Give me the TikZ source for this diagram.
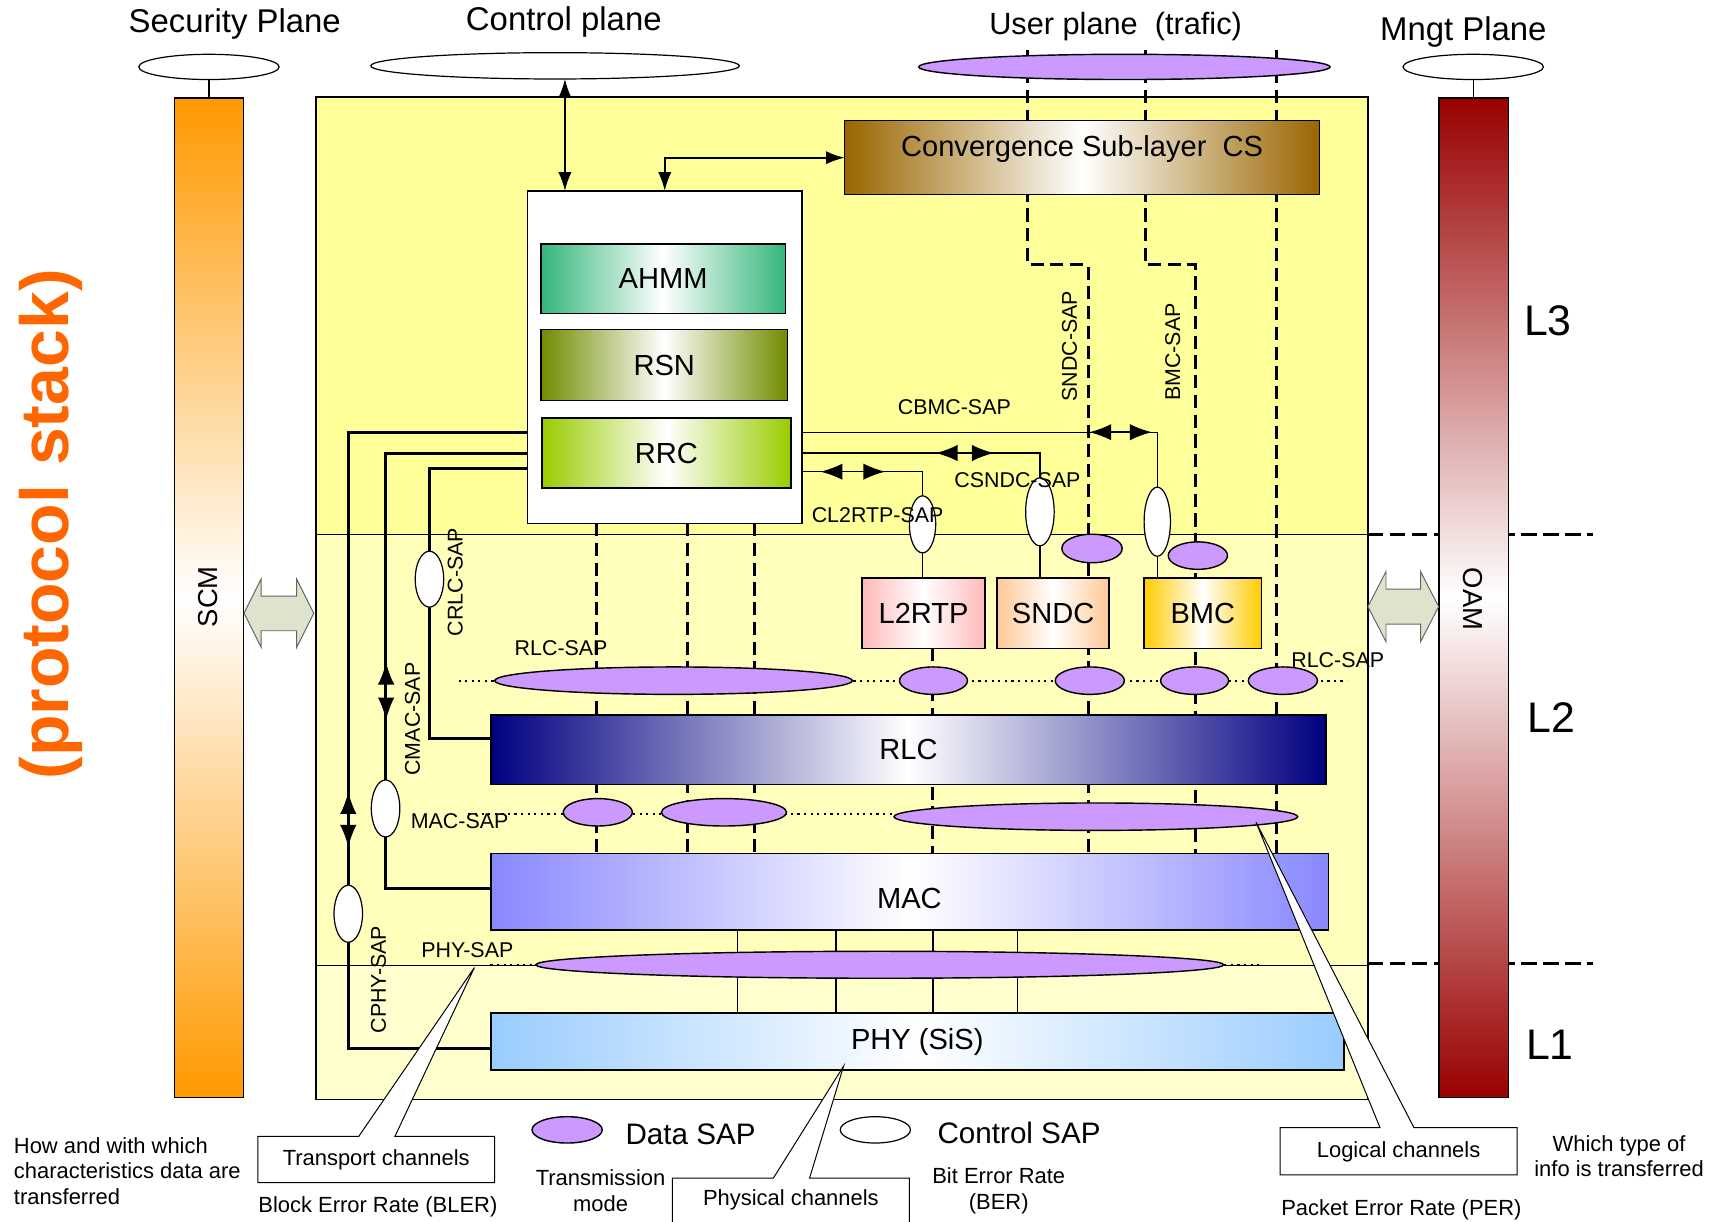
\documentclass[tikz,border=0pt]{standalone}
\usepackage{fontspec}
\setmainfont{Liberation Sans}
\usetikzlibrary{shapes.geometric,arrows.meta}
\pgfdeclarelayer{bg}
\pgfdeclarelayer{wires}
\pgfsetlayers{bg,wires,main}
\definecolor{sap}{RGB}{204,153,255}
\definecolor{ylA}{RGB}{255,255,153}
\definecolor{ylB}{RGB}{255,255,187}
\definecolor{ylC}{RGB}{255,255,206}
\definecolor{scmC}{RGB}{255,153,0}
\definecolor{oamC}{RGB}{153,0,0}
\definecolor{csC}{RGB}{153,102,0}
\definecolor{ahmmC}{RGB}{51,182,122}
\definecolor{rsnC}{RGB}{112,140,0}
\definecolor{rrcC}{RGB}{153,204,0}
\definecolor{l2C}{RGB}{255,185,185}
\definecolor{sndcC}{RGB}{255,200,150}
\definecolor{bmcC}{RGB}{255,204,0}
\definecolor{rlcC}{RGB}{0,0,128}
\definecolor{macC}{RGB}{136,136,255}
\definecolor{phyC}{RGB}{153,204,255}
\definecolor{fatC}{RGB}{221,227,204}
\definecolor{psC}{RGB}{255,102,0}
\begin{document}
\begin{tikzpicture}[x=1pt,y=-1pt,
  blk/.style={draw=black,line width=1.4pt,inner sep=0pt,outer sep=0pt,font=\fontsize{26.5}{30}\selectfont},
  hsh/.style={left color=#1,right color=#1,middle color=white},
  vsh/.style={top color=#1,bottom color=#1,middle color=white},
  dsap/.style={ellipse,draw=black,line width=1.3pt,fill=sap,inner sep=0pt,outer sep=0pt},
  csap/.style={ellipse,draw=black,line width=1.1pt,fill=white,inner sep=0pt,outer sep=0pt},
  dline/.style={line width=2.8pt,dash pattern=on 12pt off 6pt},
  xline/.style={line width=2.8pt,dash pattern=on 14pt off 6pt},
  dotl/.style={line width=2pt,dash pattern=on 2pt off 4pt},
  thinl/.style={line width=1.2pt},
  thickl/.style={line width=2.7pt},
  lbl/.style={inner sep=0pt,font=\fontsize{19.5}{23}\selectfont},
  ttl/.style={inner sep=0pt,font=\fontsize{30}{36}\selectfont},
  note/.style={inner sep=0pt,font=\fontsize{20}{23.5}\selectfont,align=center},
  lay/.style={inner sep=0pt,font=\fontsize{39}{44}\selectfont},
  callout/.style={draw=black,line width=0.9pt,fill=white},
  fatarr/.style={draw=black!60,line width=0.9pt,fill=fatC},
  bigtip/.style={line width=1.5pt,arrows={Latex[length=17pt,width=12pt]-Latex[length=17pt,width=12pt]}},
  duo/.style={line width=1.4pt,arrows={Latex[length=20pt,width=15pt]-Latex[length=20pt,width=15pt]}},
]
\useasboundingbox (0,0) rectangle (1568,1114);

% ---------- background stack ----------
\begin{pgfonlayer}{bg}
\fill[ylA] (288,88.5) rectangle (1247,487);
\fill[ylB] (288,487) rectangle (1247,880);
\fill[ylC] (288,880) rectangle (1247,1002.5);
\draw[line width=1.1pt] (288,487) -- (1247,487) (288,880) -- (1247,880);
\draw[line width=1.2pt] (288,88.5) rectangle (1247,1002.5);
\draw[xline] (1247,487) -- (1452,487);
\draw[xline] (1247,878.5) -- (1452,878.5);
\end{pgfonlayer}

% ---------- side bars ----------
\node[blk,vsh=scmC,minimum width=63pt,minimum height=911pt] (scm) at (190.5,545) {};
\node[blk,vsh=oamC,minimum width=63.4pt,minimum height=911pt] (oam) at (1343.3,545) {};
\node[rotate=90,inner sep=0pt,font=\fontsize{25}{30}\selectfont] (scmt) at (190,544) {SCM};
\node[rotate=-90,inner sep=0pt,font=\fontsize{25}{30}\selectfont] (oamt) at (1343,546) {OAM};

% fat double arrows
\draw[fatarr] (222.5,559) -- (238,528) -- (238,543.5) -- (270.5,543.5) -- (270.5,528) -- (286,559)
  -- (270.5,590) -- (270.5,575) -- (238,575) -- (238,590) -- cycle;
\draw[fatarr] (1247,553) -- (1263.5,521) -- (1263.5,537) -- (1295,537) -- (1295,521) -- (1311.5,553)
  -- (1295,585) -- (1295,569) -- (1263.5,569) -- (1263.5,585) -- cycle;

% ---------- plane ellipses ----------
\node[csap,minimum width=128pt,minimum height=23pt] (spe) at (190.5,61) {};
\node[csap,minimum width=336pt,minimum height=24pt] (cpe) at (506,60) {};
\node[dsap,minimum width=375pt,minimum height=23pt] (upe) at (1025,61) {};
\node[csap,minimum width=128pt,minimum height=23pt] (mpe) at (1343,61) {};

% ---------- blocks ----------
\node[blk,hsh=csC,minimum width=433pt,minimum height=67.5pt] (cs) at (986.5,143.75) {};
\node[inner sep=0pt,font=\fontsize{26.5}{30}\selectfont] (cst) at (986.5,136) {Convergence Sub-layer~~CS};
\node[blk,fill=white,line width=1.2pt,minimum width=250pt,minimum height=303pt] (ctrl) at (606,325.5) {};
\node[blk,hsh=ahmmC,minimum width=223pt,minimum height=63.5pt] (ahmm) at (604.5,254.25) {AHMM};
\node[blk,hsh=rsnC,minimum width=225pt,minimum height=64.5pt] (rsn) at (605.5,332.75) {RSN};
\node[blk,hsh=rrcC,minimum width=227pt,minimum height=64pt] (rrc) at (607.5,413) {RRC};
\node[blk,hsh=l2C,minimum width=112pt,minimum height=64pt] (l2rtp) at (842,559) {L2RTP};
\node[blk,hsh=sndcC,minimum width=102pt,minimum height=64pt] (sndc) at (960,559) {SNDC};
\node[blk,hsh=bmcC,minimum width=107pt,minimum height=64pt] (bmc) at (1096.5,559) {BMC};
\node[blk,hsh=rlcC,minimum width=761.5pt,minimum height=63pt] (rlc) at (828.25,683.5) {RLC};
\node[blk,hsh=macC,minimum width=763.5pt,minimum height=70pt] (mac) at (829.25,813) {};
\node[inner sep=0pt,font=\fontsize{26.5}{30}\selectfont] (mact) at (829,819.5) {MAC};
\node[blk,hsh=phyC,minimum width=777.5pt,minimum height=52pt] (phy) at (836.25,949.5) {PHY (SiS)};

% ---------- data SAPs ----------
\node[dsap,minimum width=326pt,minimum height=25pt] (rs1) at (614,620.5) {};
\node[dsap,minimum width=62pt,minimum height=25pt] (rs2) at (851,620.5) {};
\node[dsap,minimum width=63pt,minimum height=25pt] (rs3) at (993.5,620.5) {};
\node[dsap,minimum width=62pt,minimum height=25pt] (rs4) at (1089,620.5) {};
\node[dsap,minimum width=63pt,minimum height=25pt] (rs5) at (1169.5,620.5) {};
\node[dsap,minimum width=63pt,minimum height=25pt] (ms1) at (545,740.5) {};
\node[dsap,minimum width=114pt,minimum height=25pt] (ms2) at (660,740.5) {};
\node[dsap,minimum width=368pt,minimum height=25pt] (ms3) at (999,744.5) {};
\node[dsap,minimum width=627pt,minimum height=24.6pt] (ps) at (802,879.5) {};
\node[dsap,minimum width=55pt,minimum height=26pt] (ds1) at (995.5,500) {};
\node[dsap,minimum width=54pt,minimum height=25pt] (ds2) at (1092,506.5) {};

% ---------- control SAPs ----------
\node[csap,minimum width=26pt,minimum height=51pt] (crlc) at (391.5,528) {};
\node[csap,minimum width=26pt,minimum height=52pt] (cmac) at (351.5,737) {};
\node[csap,minimum width=26pt,minimum height=52pt] (cphy) at (317.5,833) {};
\node[csap,minimum width=24pt,minimum height=52pt] (cl2) at (841,478) {};
\node[csap,minimum width=26pt,minimum height=62pt] (csndc) at (948,466.6) {};
\node[csap,minimum width=24pt,minimum height=63pt] (cbmc) at (1055,475.6) {};

% ---------- wires ----------
\begin{pgfonlayer}{wires}
\draw[thinl] (spe.south) -- (spe.south |- scm.north);
\draw[thinl] (mpe.south) -- (mpe.south |- oam.north);
\foreach \x in {544,627,688} \draw[dline] (ctrl.south -| \x,0) -- (mac.north -| \x,0);
\draw[dline] (937,46) -- (937,241.5) -- (992,241.5) -- (mac.north -| 992,0);
\draw[dline] (1044,46) -- (1044,241.5) -- (1090,241.5) -- (mac.north -| 1090,0);
\draw[dline] (1164,46) -- (mac.north -| 1164,0);
\draw[dline] (l2rtp.south -| 850,0) -- (mac.north -| 850,0);
\draw[dotl] (418,620.5) -- (1228,620.5);
\draw[dotl] (427,741.7) -- (815,741.7);
\draw[dotl] (447,879.5) -- (489,879.5);
\draw[dotl] (1116,879.5) -- (1150,879.5);
\foreach \x in {672.6,762,850.5,927.6} \draw[thinl] (mac.south -| \x,0) -- (phy.north -| \x,0);
% control wires, left
\draw[thickl] (ctrl.west |- 0,394) -| (cphy.center) |- (phy.west |- 0,956);
\draw[thickl] (ctrl.west |- 0,413) -| (cmac.center) |- (mac.west |- 0,809.6);
\draw[thickl] (ctrl.west |- 0,427) -| (crlc.center) |- (rlc.west |- 0,673.6);
\draw[duo] (317.5,722) -- (317.5,772);
\draw[duo] (352,604) -- (352,656);
% control wires, right
\draw[thinl] (ctrl.east |- 0,394) -| (cbmc.center) -- (cbmc.center |- bmc.north);
\draw[thinl] (ctrl.east |- 0,413) -| (csndc.center) -- (csndc.center |- sndc.north);
\draw[thinl] (ctrl.east |- 0,430) -| (cl2.center) -- (cl2.center |- l2rtp.north);
\draw[duo] (993,394) -- (1050,394);
\draw[duo] (853,413) -- (906,413);
\draw[duo] (748,430) -- (807,430);
% control plane arrows
\coordinate (cpa) at (515,72);
\draw[bigtip] (cpa) -- (cpa |- ctrl.north);
\draw[bigtip] (cs.west) -| (ctrl.north);
\end{pgfonlayer}

% ---------- titles and layer labels ----------
\node[ttl] (tsec) at (214,22) {Security Plane};
\node[ttl] (tctl) at (514,20) {Control plane};
\node[inner sep=0pt,font=\fontsize{28}{34}\selectfont] (tusr) at (1017,24) {User plane~~(trafic)};
\node[ttl] (tmng) at (1334,29) {Mngt Plane};
\node[lay] (l3) at (1411,292) {L3};
\node[lay] (l2) at (1414,654) {L2};
\node[lay] (l1) at (1413,952) {L1};
\node[rotate=90,inner sep=0pt,text=psC,font=\fontsize{62}{70}\selectfont\bfseries] (pstack) at (46,478) {(protocol stack)};

% ---------- SAP labels ----------
\node[lbl] (lcbmc) at (870,371) {CBMC-SAP};
\node[lbl] (lcsndc) at (927.5,438) {CSNDC-SAP};
\node[lbl] (lcl2) at (800,469.5) {CL2RTP-SAP};
\node[lbl] (lrlc1) at (511.5,591) {RLC-SAP};
\node[lbl] (lrlc2) at (1219.5,602) {RLC-SAP};
\node[lbl] (lmac) at (419,749) {MAC-SAP};
\node[lbl] (lphy) at (426,866) {PHY-SAP};
\node[lbl,rotate=90] (lsndc) at (975,315.5) {SNDC-SAP};
\node[lbl,rotate=90] (lbmc) at (1069,321) {BMC-SAP};
\node[lbl,rotate=90] (lcrlc) at (415,530.5) {CRLC-SAP};
\node[lbl,rotate=90] (lcmac) at (376,655.5) {CMAC-SAP};
\node[lbl,rotate=90] (lcphy) at (345,893) {CPHY-SAP};

% ---------- legend and notes ----------
\node[dsap,minimum width=64pt,minimum height=24pt] (dleg) at (517,1030) {};
\node[inner sep=0pt,font=\fontsize{27}{32}\selectfont] (tdleg) at (629.5,1034) {Data SAP};
\node[csap,minimum width=64pt,minimum height=24pt] (cleg) at (798,1030) {};
\node[inner sep=0pt,font=\fontsize{27}{32}\selectfont] (tcleg) at (929,1033) {Control SAP};
\node[note] (ttm) at (547.5,1085.5) {Transmission\\mode};
\node[note] (tber) at (910.5,1085.5) {Bit Error Rate\\(BER)};
\node[note,align=left,anchor=west] (thow) at (12.5,1067.5) {How and with which\\characteristics data are\\transferred};
\node[note] (tbler) at (344.5,1100) {Block Error Rate (BLER)};
\node[note] (twhich) at (1476,1054) {Which type of\\info is transferred};
\node[note] (tper) at (1277.5,1103) {Packet Error Rate (PER)};

% ---------- callouts ----------
\draw[callout] (235,1036) -- (327,1036) -- (432.5,882) -- (360,1036) -- (451,1036) -- (451,1078) -- (235,1078) -- cycle;
\draw[callout] (613,1074) -- (705,1074) -- (769,972) -- (738,1074) -- (829,1074) -- (829,1120) -- (613,1120) -- cycle;
\draw[callout] (1167,1028) -- (1258,1028) -- (1145,749.5) -- (1289,1028) -- (1383,1028) -- (1383,1071) -- (1167,1071) -- cycle;
\node[note] (ttrans) at (343,1057) {Transport channels};
\node[note] (tphys) at (721,1094) {Physical channels};
\node[note] (tlog) at (1275,1050) {Logical channels};
\end{tikzpicture}
\end{document}
